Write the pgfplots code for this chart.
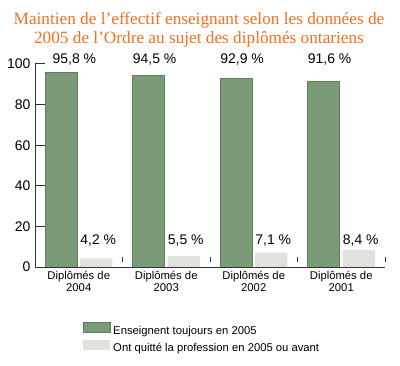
\documentclass[border=0pt]{standalone}
\usepackage{pgfplots}
\pgfplotsset{compat=1.18}
\usepackage{fontspec}
\setmainfont{Liberation Sans}
\newfontfamily\titlefont{Liberation Serif}
\definecolor{tgreen}{HTML}{7B9B78}
\definecolor{tgreenedge}{HTML}{5E7E5C}
\definecolor{tgray}{HTML}{E0E2DC}
\definecolor{torange}{HTML}{F37021}
\definecolor{axisc}{HTML}{333333}
\begin{document}
\begin{tikzpicture}
\useasboundingbox (0,0) rectangle (400bp,366bp);
\node[anchor=base, inner sep=0pt, text=torange, font=\titlefont\fontsize{17.3}{19}\selectfont] at (199bp,341bp) {Maintien de l’effectif enseignant selon les données de};
\node[anchor=base, inner sep=0pt, text=torange, font=\titlefont\fontsize{17.3}{19}\selectfont] at (199bp,322bp) {2005 de l’Ordre au sujet des diplômés ontariens};
\begin{axis}[
  at={(35bp,99bp)}, anchor=south west,
  scale only axis, width=350bp, height=203bp,
  xmin=-0.5, xmax=3.5, ymin=0, ymax=100,
  clip=false, axis on top,
  axis lines*=left,
  axis line style={draw=axisc, line width=1bp},
  every tick/.style={draw=axisc, line width=1bp},
  tick align=inside,
  xtick pos=bottom, ytick pos=left,
  major tick length=10bp,
  ytick={0,20,40,60,80,100},
  y tick label style={font=\fontsize{14}{16}\selectfont, xshift=-1bp},
  /pgf/number format/assume math mode=true,
  xtick={-0.5,0.5,1.5,2.5,3.5},
  x tick label as interval,
  xticklabels={{Diplômés de\\2004},{Diplômés de\\2003},{Diplômés de\\2002},{Diplômés de\\2001}},
  x tick label style={align=center, font=\fontsize{11.3}{12}\selectfont, yshift=-1bp},
  major x tick style={draw=axisc, line width=1bp, yshift=5bp, /pgfplots/major tick length=5bp},
  legend style={draw=none, fill=none, inner sep=0pt, row sep=3bp,
    font=\fontsize{11.3}{12}\selectfont,
    at={(axis description cs:0.137,-0.27)}, anchor=north west,
    nodes={inner xsep=2.5bp, inner ysep=1bp}},
  legend cell align=left,
  legend image code/.code={\path[#1] (0bp,-1.5bp) rectangle (27bp,8.5bp);},
]
\addplot[ybar, bar width=0.366, bar shift=0pt, fill=tgreen, draw=tgreenedge, line width=0.6bp]
  coordinates {(-0.2,95.8) (0.8,94.5) (1.8,92.9) (2.8,91.6)};
\addlegendentry{Enseignent toujours en 2005}
\addplot[ybar, bar width=0.366, bar shift=0pt, fill=tgray, draw=none]
  coordinates {(0.2,4.2) (1.2,5.5) (2.2,7.1) (3.2,8.4)};
\addlegendentry{Ont quitté la profession en 2005 ou avant}
\addplot[forget plot, draw=none, nodes near coords, point meta=explicit symbolic,
  nodes near coords style={anchor=base west, inner sep=0pt, font=\fontsize{14}{16}\selectfont}]
  coordinates {(-0.30,100.2)[95,8 \%] (0.617,100.2)[94,5 \%] (1.617,100.2)[92,9 \%] (2.617,100.2)[91,6 \%]};
\addplot[forget plot, draw=none, nodes near coords, point meta=explicit symbolic,
  nodes near coords style={anchor=base west, inner sep=0pt, font=\fontsize{14}{16}\selectfont}]
  coordinates {(0.017,11.3)[4,2 \%] (1.017,11.3)[5,5 \%] (2.017,11.3)[7,1 \%] (3.017,11.3)[8,4 \%]};
\end{axis}
\end{tikzpicture}
\end{document}
